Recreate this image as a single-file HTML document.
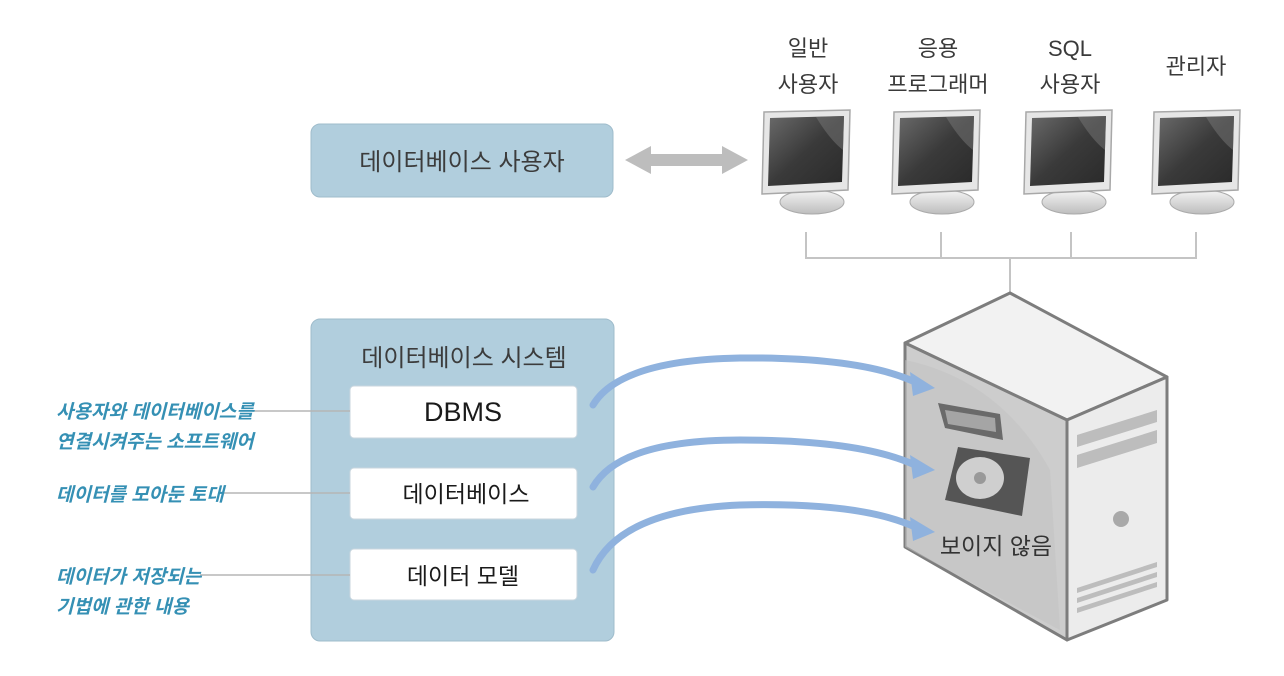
<!DOCTYPE html>
<html><head><meta charset="utf-8"><style>
body{margin:0;background:#fff;width:1284px;height:676px;overflow:hidden;font-family:"Liberation Sans","Noto Sans CJK KR",sans-serif;}
svg{position:absolute;left:0;top:0}
</style></head><body>
<svg width="1284" height="676" viewBox="0 0 1284 676" xmlns="http://www.w3.org/2000/svg">
<defs>
<linearGradient id="scr" x1="0" y1="0" x2="1" y2="1">
<stop offset="0" stop-color="#6a6a6a"/><stop offset="0.5" stop-color="#3a3a3a"/><stop offset="1" stop-color="#2a2a2a"/></linearGradient>
<linearGradient id="base" x1="0" y1="0" x2="0" y2="1"><stop offset="0" stop-color="#f4f4f4"/><stop offset="1" stop-color="#bdbdbd"/></linearGradient>
<g id="mon">
<path d="M-12,88 Q0,78 0,70 L12,70 Q12,78 24,88 Z" fill="#cfcfcf"/>
<ellipse cx="6" cy="92" rx="32" ry="12" fill="url(#base)" stroke="#aaa"/>
<path d="M-42,2 L44,0 L42,80 L-44,84 Z" fill="#e6e6e6" stroke="#a8a8a8" stroke-width="1.5"/>
<path d="M-36,8 L38,6 L36,72 L-38,76 Z" fill="url(#scr)"/>
<path d="M10,7 L38,6 L37,40 Q24,30 10,7Z" fill="#777" opacity="0.5"/>
</g>
</defs>

<rect x="311" y="124" width="302" height="73" rx="9" fill="#b1cedd" stroke="#9fbccb"/>
<text x="462" y="170" font-size="24" fill="#3c3c3c" text-anchor="middle">데이터베이스 사용자</text>
<path d="M625,160 L651,146 L651,154 L722,154 L722,146 L748,160 L722,174 L722,166 L651,166 L651,174 Z" fill="#bdbdbd"/>

<g font-size="22" fill="#3a3a3a" text-anchor="middle">
<text x="808" y="56">일반</text><text x="808" y="92">사용자</text>
<text x="938" y="56">응용</text><text x="938" y="92">프로그래머</text>
<text x="1070" y="56">SQL</text><text x="1070" y="92">사용자</text>
<text x="1196" y="74">관리자</text>
</g>
<use href="#mon" x="806" y="110"/>
<use href="#mon" x="936" y="110"/>
<use href="#mon" x="1068" y="110"/>
<use href="#mon" x="1196" y="110"/>

<g stroke="#c4c4c4" stroke-width="2" fill="none">
<path d="M806,232 V258 H1196 V232"/>
<path d="M941,232 V258 M1071,232 V258 M1010,258 V296"/>
</g>

<rect x="311" y="319" width="303" height="322" rx="9" fill="#b1cedd" stroke="#9fbccb"/>
<text x="464" y="366" font-size="24" fill="#3c3c3c" text-anchor="middle">데이터베이스 시스템</text>
<g fill="#fff" stroke="#c9d6de">
<rect x="350" y="386" width="227" height="52" rx="4"/>
<rect x="350" y="468" width="227" height="51" rx="4"/>
<rect x="350" y="549" width="227" height="51" rx="4"/>
</g>
<g font-size="23" fill="#1a1a1a" text-anchor="middle">
<text x="463" y="421" font-size="27">DBMS</text>
<text x="466" y="502">데이터베이스</text>
<text x="463" y="584">데이터 모델</text>
</g>

<g stroke="#b5b5b5" stroke-width="1.5">
<line x1="252" y1="411" x2="350" y2="411"/>
<line x1="218" y1="493" x2="350" y2="493"/>
<line x1="200" y1="575" x2="350" y2="575"/>
</g>
<g font-size="19" fill="#3590b4" font-style="italic" font-weight="bold">
<text x="56" y="418">사용자와 데이터베이스를</text>
<text x="56" y="448">연결시켜주는 소프트웨어</text>
<text x="56" y="501">데이터를 모아둔 토대</text>
<text x="56" y="583">데이터가 저장되는</text>
<text x="56" y="613">기법에 관한 내용</text>
</g>

<path d="M1010,293 L1167,377 L1067,420 L905,343 Z" fill="#f2f2f2" stroke="#7d7d7d" stroke-width="3" stroke-linejoin="round"/>
<path d="M905,343 L1067,420 L1067,640 L905,547 Z" fill="#cdcdcd" stroke="#7d7d7d" stroke-width="3" stroke-linejoin="round"/>
<path d="M1067,420 L1167,377 L1167,600 L1067,640 Z" fill="#ececec" stroke="#7d7d7d" stroke-width="3" stroke-linejoin="round"/>
<path d="M905,360 Q1000,380 1050,470 L1060,630 L905,547Z" fill="#c2c2c2" opacity="0.5"/>
<g fill="#bdbdbd">
<path d="M1077,435 L1157,410 L1157,422 L1077,447Z"/>
<path d="M1077,455 L1157,430 L1157,443 L1077,468Z"/>
<path d="M1077,588 L1157,562 L1157,567 L1077,593Z"/>
<path d="M1077,598 L1157,572 L1157,577 L1077,603Z"/>
<path d="M1077,608 L1157,582 L1157,587 L1077,613Z"/>
</g>
<circle cx="1121" cy="519" r="8" fill="#a9a9a9"/>
<path d="M938,403 L1000,414 L1003,440 L945,428Z" fill="#6a6a6a"/>
<path d="M945,410 L995,418 L996,432 L948,424Z" fill="#a5a5a5"/>
<path d="M958,447 L1030,458 L1022,516 L945,500Z" fill="#555"/>
<ellipse cx="980" cy="478" rx="24" ry="21" fill="#cfcfcf"/>
<circle cx="980" cy="478" r="6" fill="#999"/>
<text x="996" y="554" font-size="23" fill="#333" text-anchor="middle">보이지 않음</text>

<g fill="none" stroke="#8fb2de" stroke-width="7" stroke-linecap="round">
<path d="M593,405 Q620,360 740,358 Q860,357 915,382"/>
<path d="M593,487 Q620,440 740,440 Q860,440 915,465"/>
<path d="M593,570 Q620,510 740,505 Q860,502 915,527"/>
</g>
<g fill="#8fb2de">
<path d="M910,372 L935,388 L913,396Z"/>
<path d="M910,455 L935,470 L913,479Z"/>
<path d="M910,517 L935,532 L913,541Z"/>
</g>
</svg>
</body></html>
